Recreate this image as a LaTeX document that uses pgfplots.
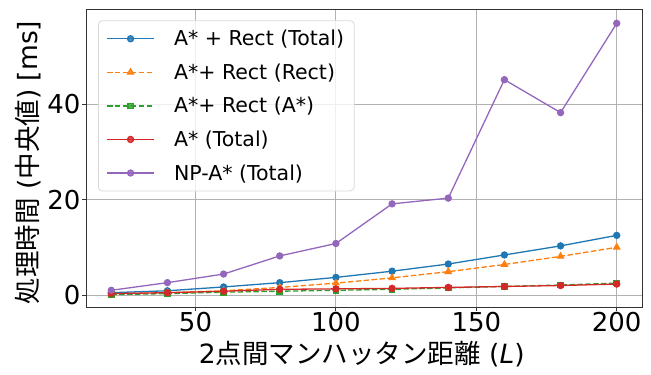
\documentclass[border=0pt]{standalone}
\usepackage{fontspec}
\setmainfont{DejaVu Sans}
\newfontfamily\jp{Noto Sans CJK JP}
\usepackage{pgfplots}
\pgfplotsset{compat=1.18}
\definecolor{tabblue}{HTML}{1F77B4}
\definecolor{taborange}{HTML}{FF7F0E}
\definecolor{tabgreen}{HTML}{2CA02C}
\definecolor{tabred}{HTML}{D62728}
\definecolor{tabpurple}{HTML}{9467BD}
\begin{document}
\begin{tikzpicture}
\begin{axis}[
  name=main,
  scale only axis,
  width=556pt, height=298pt,
  xmin=11, xmax=209, ymin=-2.5, ymax=59.9,
  xtick={50,100,150,200}, ytick={0,20,40},
  grid=major,
  major grid style={color=black!30, line width=0.9pt},
  axis line style={line width=0.9pt, black!80},
  tick style={black!80, line width=0.9pt},
  tick align=outside, major tick length=4pt,
  xtick pos=bottom, ytick pos=left,
  /pgf/number format/assume math mode=true,
  ticklabel style={font=\fontsize{26}{30}\selectfont},
  xticklabel style={yshift=2pt},
  yticklabel style={xshift=2pt},
  xlabel={2{\jp 点間マンハッタン距離} (\textit{L})},
  ylabel={{\jp 処理時間} ({\jp 中央値}) [ms]},
  label style={font=\fontsize{26.5}{30}\selectfont},
  xlabel style={at={(axis description cs:0.496,-0.158)}, anchor=center},
  ylabel style={at={(axis description cs:-0.104,0.485)}, anchor=center},
  legend style={at={(axis description cs:0.0216,0.962)}, anchor=north west,
    font=\fontsize{20.5}{24}\selectfont,
    draw=black!15, line width=0.8pt, rounded corners=4pt, fill=white, fill opacity=0.8, text opacity=1,
    row sep=12.5pt, inner xsep=8pt, inner ysep=7.5pt},
  legend cell align=left,
  legend image code/.code={
    \path[draw=none] (0pt,0pt) -- (63pt,0pt);
    \draw[#1] (-2pt,0pt) -- (45pt,0pt);
    \draw[#1, solid] plot coordinates {(21.5pt,0pt)};
  },
  every axis plot/.append style={line width=1.3pt, mark size=3pt},
  mydash/.style={dash pattern=on 5.5pt off 2.4pt},
]
\addplot[tabblue, mark=*, mark options={solid, fill=tabblue}] coordinates {
  (20,0.5) (40,0.9) (60,1.7) (80,2.6) (100,3.7) (120,5.0) (140,6.5) (160,8.4) (180,10.3) (200,12.5)};
\addlegendentry{A* + Rect (Total)}
\addplot[taborange, mydash, mark=triangle*, mark options={solid, fill=taborange}, mark size=3.4pt] coordinates {
  (20,0.2) (40,0.5) (60,0.9) (80,1.6) (100,2.5) (120,3.6) (140,4.9) (160,6.4) (180,8.1) (200,10.0)};
\addlegendentry{A*+ Rect (Rect)}
\addplot[tabgreen, mydash, mark=square*, mark options={solid, fill=tabgreen}, mark size=2.7pt] coordinates {
  (20,0.1) (40,0.3) (60,0.6) (80,0.8) (100,1.0) (120,1.2) (140,1.5) (160,1.8) (180,2.1) (200,2.5)};
\addlegendentry{A*+ Rect (A*)}
\addplot[tabred, mark=*, mark options={solid, fill=tabred}] coordinates {
  (20,0.3) (40,0.5) (60,0.8) (80,1.2) (100,1.3) (120,1.4) (140,1.6) (160,1.8) (180,2.0) (200,2.3)};
\addlegendentry{A* (Total)}
\addplot[tabpurple, mark=*, mark options={solid, fill=tabpurple}] coordinates {
  (20,1.0) (40,2.6) (60,4.4) (80,8.2) (100,10.8) (120,19.1) (140,20.3) (160,45.1) (180,38.2) (200,56.9)};
\addlegendentry{NP-A* (Total)}
\end{axis}
% fixed page frame around the axis box
\path[use as bounding box] ([shift={(-86pt,-67pt)}]main.south west) rectangle ([shift={(9pt,9pt)}]main.north east);
\end{tikzpicture}
\end{document}
